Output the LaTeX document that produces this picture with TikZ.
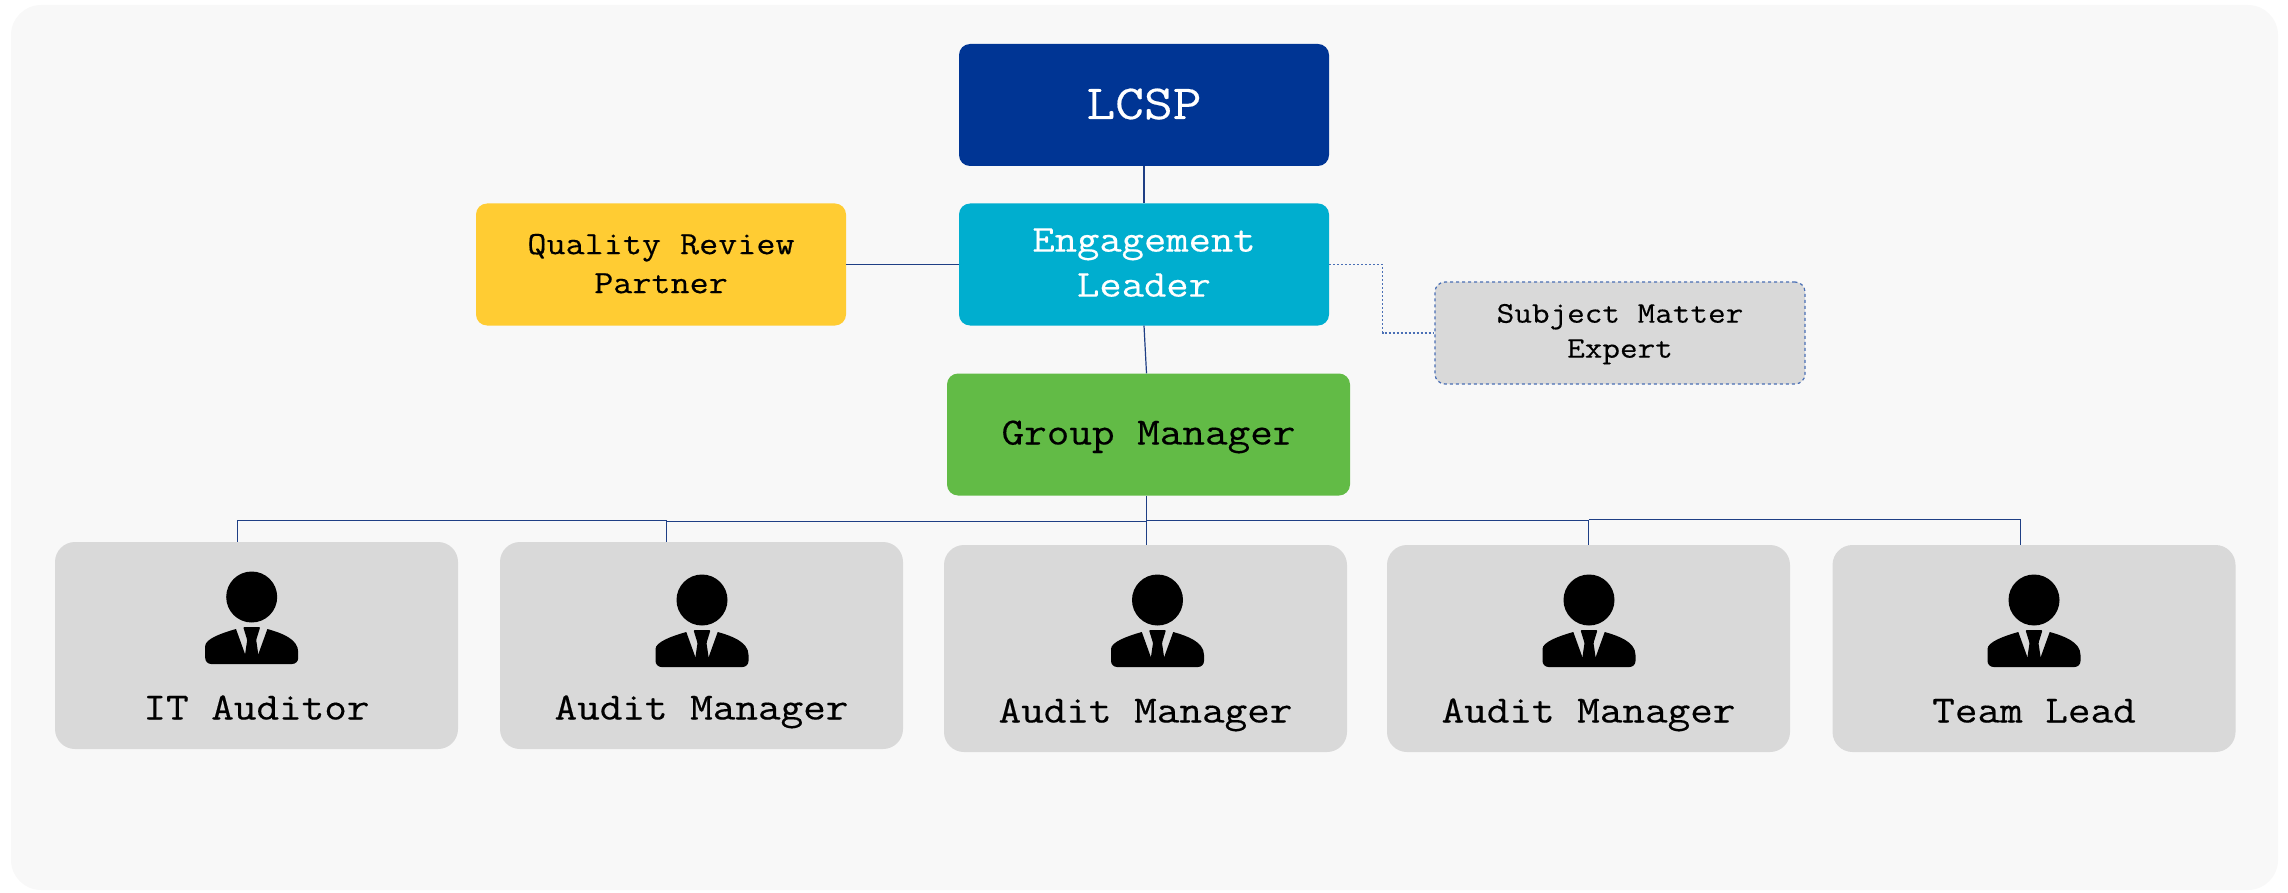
\documentclass[tikz,border=0pt]{standalone}
\usepackage{fontspec}
\newfontfamily\cour[FakeStretch=1.14,FakeBold=0.35]{Latin Modern Mono}
\newcommand{\lowered}[1]{\smash{\raisebox{-74pt}{#1}}}
\newcommand{\sunk}[2]{\smash{\raisebox{-#1pt}{#2}}}
\definecolor{bgc}{HTML}{F8F8F8}
\definecolor{navy}{HTML}{003594}
\definecolor{teal}{HTML}{00AECF}
\definecolor{amber}{HTML}{FFCC33}
\definecolor{leaf}{HTML}{62BB46}
\definecolor{pale}{HTML}{D9D9D9}
\definecolor{wire}{HTML}{1F3F85}
\definecolor{dash}{HTML}{4A6FB5}
\tikzset{
  x=1pt,y=-1pt,
  card/.style={inner sep=0pt,align=center,rounded corners=11pt,minimum width=370pt,minimum height=122pt},
  staff/.style={card,fill=pale,rounded corners=20pt,minimum width=403pt,minimum height=207pt,font=\fontsize{38.5}{45}\cour},
  wireline/.style={draw=wire,line width=1.2pt},
  dotline/.style={draw=dash,line width=1.2pt,dash pattern=on 2pt off 2pt},
  person/.pic={
    \fill[black] (0,0) circle (25.5);
    \fill[black,rounded corners=1pt] (-46.5,67) [rounded corners=6pt] -- (-46.5,55) [rounded corners=0pt] .. controls (-46.5,42) and (-30,36) .. (-15.7,32) -- (-6.7,57) -- (6.7,57) -- (15.7,32) .. controls (30,36) and (46.5,42) .. (46.5,55) [rounded corners=6pt] -- (46.5,67) -- cycle;
    \fill[black,rounded corners=1pt] (-8.5,30) -- (8.5,30) -- (4.5,43) -- (7,60) -- (-7,60) -- (-4.5,43) -- cycle;
  }
}
\begin{document}
\begin{tikzpicture}
\useasboundingbox (0,0) rectangle (2288,893);
\fill[bgc,rounded corners=30pt] (11,5) rectangle (2278,890);
% nodes
\node[card,fill=navy,text=white,font=\fontsize{49}{54}\cour] (lcsp) at (1144,105) {\sunk{14}{LCSP}};
\node[card,fill=teal,text=white,font=\fontsize{38}{45}\cour] (el) at (1144,264.5) {Engagement\\Leader\rule[-4pt]{0pt}{1pt}};
\node[card,fill=amber,font=\fontsize{32.5}{39}\cour] (qrp) at (661,264.5) {Quality Review\\Partner\rule[-2pt]{0pt}{1pt}};
\node[card,fill=leaf,minimum width=403pt,font=\fontsize{38.5}{45}\cour] (gm) at (1148.5,434.5) {\sunk{10}{Group Manager}};
\node[card,fill=pale,draw=dash,line width=1.2pt,dashed,minimum height=102pt,rounded corners=10pt,font=\fontsize{30}{35}\cour] (sme) at (1620,333) {\rule{0pt}{21pt}Subject Matter\\Expert};
\node[staff] (it) at (256.5,645.5) {\lowered{IT Auditor}};
\node[staff] (am1) at (701.5,645.5) {\lowered{Audit Manager}};
\node[staff] (am2) at (1145.5,648.5) {\lowered{Audit Manager}};
\node[staff] (am3) at (1588.5,648.5) {\lowered{Audit Manager}};
\node[staff] (tl) at (2034,648.5) {\lowered{Team Lead}};
% icons
\pic at (251.7,597) {person};
\pic at (702,600) {person};
\pic at (1157.5,600) {person};
\pic at (1589,600) {person};
\pic at (2034,600) {person};
% connectors
\coordinate (bus) at (1146.5,521.5);
\coordinate (dit) at (237.5,542);
\coordinate (dam1) at (666.5,542);
\coordinate (dtl) at (2020.5,545);
\draw[wireline] (lcsp.south) -- (el.north);
\draw[wireline] (el.south) -- (gm.north -| bus);
\draw[wireline] (qrp.east) -- (el.west);
\draw[wireline] (gm.south -| bus) -- (am2.north -| bus);
\draw[wireline] (bus) -- (dam1 |- bus) -- (dam1);
\draw[wireline] (dam1 |- bus) ++(0,-1) -| (dit);
\draw[wireline] (bus) ++(0,-1) -| (am3.north);
\draw[wireline] (am3.north |- bus) ++(0,-2) -| (dtl);
\coordinate (elbow) at (1382.5,264.5);
\draw[dotline] (el.east) -- (elbow) |- (sme.west);
\end{tikzpicture}
\end{document}
